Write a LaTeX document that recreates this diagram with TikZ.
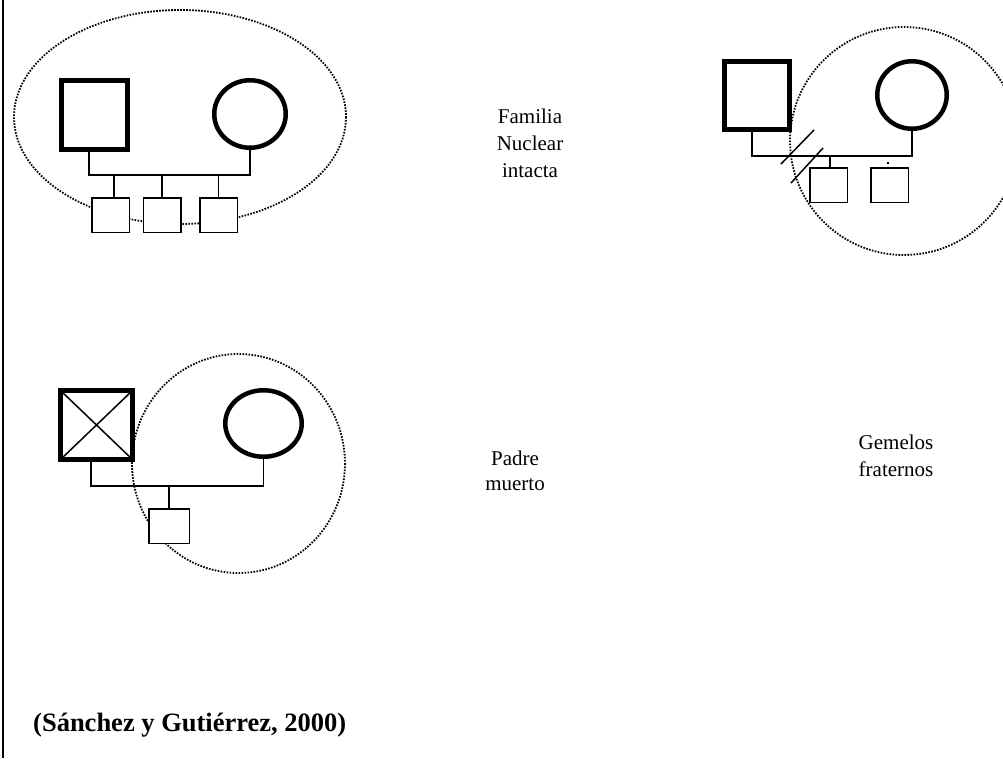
\documentclass[tikz,border=0pt]{standalone}
\usepackage{fontspec}
\setmainfont{Liberation Serif}
\usetikzlibrary{shapes.geometric}
\begin{document}
\begin{tikzpicture}[x=1pt,y=-1pt,
  male/.style={draw,rectangle,line width=5pt,fill=white,inner sep=0pt},
  female/.style={draw,ellipse,line width=4.5pt,fill=white,inner sep=0pt},
  kid/.style={draw,rectangle,line width=1.5pt,fill=white,inner sep=0pt,minimum width=37.5pt,minimum height=34.5pt},
  link/.style={line width=1.5pt},
  bound/.style={line width=1.8pt,dash pattern=on 1.6pt off 1.4pt},
  lbl/.style={align=center,font=\fontsize{21}{27}\selectfont,inner sep=0pt}]
\useasboundingbox (0,0) rectangle (1003,758);
\draw[line width=2pt] (3,0) -- (3,758);
% panel 1
\draw[bound] (180,117) ellipse [x radius=166, y radius=107];
\node[male,minimum width=66pt,minimum height=69pt] (f1) at (94.5,115) {};
\node[female,minimum width=71.5pt,minimum height=67.5pt] (m1) at (250,114) {};
\node[kid] (c11) at (110.5,215) {};
\node[kid] (c12) at (162,215) {};
\node[kid] (c13) at (218.5,215) {};
\coordinate (j1) at (89,175);
\draw[link] (f1.south -| j1) -- (j1) -| (m1.south);
\draw[link] ([xshift=3.5pt]c11.north) -- ([xshift=3.5pt]c11.north |- j1);
\draw[link] (c12.north) -- (c12.north |- j1);
\draw[link] (c13.north) -- (c13.north |- j1);
% panel 2
\draw[bound] (904,141) circle [radius=114];
\node[male,minimum width=65pt,minimum height=68pt] (f2) at (757,95.5) {};
\node[female,minimum width=69.5pt,minimum height=67.5pt] (m2) at (912,95) {};
\node[kid] (c21) at (828.5,185) {};
\node[kid] (c22) at (889.5,185) {};
\coordinate (j2) at (752,156);
\draw[link] (f2.south -| j2) -- (j2) -| (m2.south);
\draw[link] ([xshift=1.5pt]c21.north) -- ([xshift=1.5pt]c21.north |- j2);
\fill (887.3,162.3) rectangle (888.8,163.8);
\coordinate (s1a) at (781,164); \coordinate (s1b) at (814,130);
\coordinate (s2a) at (791,183); \coordinate (s2b) at (823,148);
\draw[link] (s1a) -- (s1b);
\draw[link] (s2a) -- (s2b);
% panel 3
\draw[bound] (238.5,463.5) ellipse [x radius=106.5, y radius=109.5];
\node[male,minimum width=72pt,minimum height=69pt] (f3) at (96.5,425) {};
\draw[link] ([shift={(2pt,-2pt)}]f3.north west) -- ([shift={(-2pt,2pt)}]f3.south east);
\draw[link] ([shift={(2pt,2pt)}]f3.south west) -- ([shift={(-2pt,-2pt)}]f3.north east);
\node[female,minimum width=76.5pt,minimum height=66.5pt] (m3) at (263.5,423.5) {};
\node[kid,minimum width=40.5pt] (c31) at (169,526) {};
\coordinate (j3) at (91,486);
\draw[link] (f3.south -| j3) -- (j3) -| (m3.south);
\draw[link] (c31.north) -- (c31.north |- j3);
% labels
\node[lbl] (t1) at (530,143) {Familia\\Nuclear\\intacta};
\node[lbl,font=\fontsize{21}{25}\selectfont] (t2) at (515,471) {Padre\\muerto};
\node[lbl] (t3) at (896,456) {Gemelos\\fraternos};
\node[anchor=west,inner sep=0pt,font=\fontsize{26.5}{30}\selectfont\bfseries] (src) at (33,725) {(Sánchez y Gutiérrez, 2000)};
\end{tikzpicture}
\end{document}
